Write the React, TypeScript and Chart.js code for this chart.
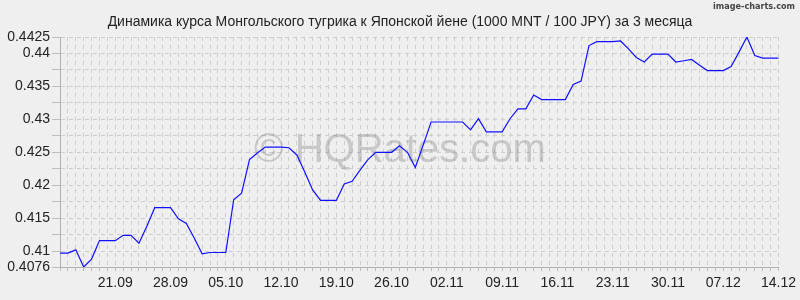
import React, { useEffect, useRef } from 'react';
import { Chart, registerables } from 'chart.js';

Chart.register(...registerables);

const titleText = 'Динамика курса Монгольского тугрика к Японской йене (1000 MNT / 100 JPY) за 3 месяца';
const watermarkText = '© HQRates.com';
const creditText = 'image-charts.com';

const categories = [
  '14.09', '15.09', '16.09', '17.09', '18.09', '19.09', '20.09', '21.09', '22.09', '23.09',
  '24.09', '25.09', '26.09', '27.09', '28.09', '29.09', '30.09',
  '01.10', '02.10', '03.10', '04.10', '05.10', '06.10', '07.10', '08.10', '09.10', '10.10',
  '11.10', '12.10', '13.10', '14.10', '15.10', '16.10', '17.10', '18.10', '19.10', '20.10',
  '21.10', '22.10', '23.10', '24.10', '25.10', '26.10', '27.10', '28.10', '29.10', '30.10', '31.10',
  '01.11', '02.11', '03.11', '04.11', '05.11', '06.11', '07.11', '08.11', '09.11', '10.11',
  '11.11', '12.11', '13.11', '14.11', '15.11', '16.11', '17.11', '18.11', '19.11', '20.11',
  '21.11', '22.11', '23.11', '24.11', '25.11', '26.11', '27.11', '28.11', '29.11', '30.11',
  '01.12', '02.12', '03.12', '04.12', '05.12', '06.12', '07.12', '08.12', '09.12', '10.12',
  '11.12', '12.12', '13.12', '14.12',
];

const rateValues = [
  0.4097, 0.4097, 0.4102, 0.4076, 0.4088, 0.4116, 0.4116, 0.4116, 0.4124, 0.4124,
  0.4112, 0.4138, 0.4166, 0.4166, 0.4166, 0.4149, 0.4142, 0.4120, 0.4096, 0.4098,
  0.4098, 0.4098, 0.4178, 0.4188, 0.4239, 0.4249, 0.4258, 0.4258, 0.4258, 0.4257,
  0.4246, 0.4220, 0.4193, 0.4177, 0.4177, 0.4177, 0.4202, 0.4206, 0.4223, 0.4239,
  0.4250, 0.4250, 0.4250, 0.4260, 0.4250, 0.4227, 0.4261, 0.4296, 0.4296, 0.4296,
  0.4296, 0.4296, 0.4284, 0.4301, 0.4281, 0.4281, 0.4281, 0.4301, 0.4316, 0.4316,
  0.4337, 0.4330, 0.4330, 0.4330, 0.4330, 0.4353, 0.4358, 0.4412, 0.4418, 0.4418,
  0.4418, 0.4419, 0.4407, 0.4394, 0.4387, 0.4399, 0.4399, 0.4399, 0.4387, 0.4389,
  0.4391, 0.4382, 0.4374, 0.4374, 0.4374, 0.4380, 0.4402, 0.4425, 0.4397, 0.4393,
  0.4393, 0.4393,
];

const xTickLabels = ['21.09', '28.09', '05.10', '12.10', '19.10', '26.10', '02.11', '09.11', '16.11', '23.11', '30.11', '07.12', '14.12'];

const yMin = 0.4076;
const yMax = 0.4425;
const yTickValues = [0.4076, 0.41, 0.4125, 0.415, 0.4175, 0.42, 0.4225, 0.425, 0.4275, 0.43, 0.4325, 0.435, 0.4375, 0.44, 0.4425];
const yTickLabels = ['0.4076', '0.41', '', '0.415', '', '0.42', '', '0.425', '', '0.43', '', '0.435', '', '0.44', '0.4425'];

const FONT = '"Liberation Sans", Arial, sans-serif';

const decorPlugin = {
  id: 'decor',
  beforeDraw(chart: any) {
    const ctx = chart.ctx;
    ctx.save();
    ctx.fillStyle = '#efefef';
    ctx.fillRect(0, 0, chart.width, chart.height);
    ctx.fillStyle = '#222';
    ctx.font = '14px ' + FONT;
    ctx.textAlign = 'center';
    ctx.textBaseline = 'alphabetic';
    ctx.fillText(titleText, 400, 26);
    ctx.fillStyle = '#444';
    ctx.font = 'bold 9px "DejaVu Sans Condensed", "DejaVu Sans", sans-serif';
    ctx.textAlign = 'right';
    ctx.fillText(creditText, 795, 9);
    ctx.restore();
  },
  beforeDatasetsDraw(chart: any) {
    const ctx = chart.ctx;
    ctx.save();
    ctx.fillStyle = 'rgba(120,120,120,0.33)';
    ctx.font = '40px ' + FONT;
    ctx.textAlign = 'center';
    ctx.textBaseline = 'alphabetic';
    ctx.fillText(watermarkText, 400, 162);
    ctx.restore();
  },
};

export default function App() {
  const ref = useRef<HTMLCanvasElement | null>(null);
  useEffect(() => {
    document.body.style.margin = '0';
    document.body.style.background = '#efefef';
    const canvas = ref.current;
    if (!canvas) return;
    const chart = new Chart(canvas, {
      type: 'line',
      data: {
        labels: categories,
        datasets: [
          {
            data: rateValues,
            borderColor: '#1010ff',
            borderWidth: 1.2,
            pointRadius: 0,
            tension: 0,
            fill: false,
          },
        ],
      },
      options: {
        animation: false,
        responsive: false,
        devicePixelRatio: 1,
        layout: { padding: { left: 0, right: 21, top: 37, bottom: 0 } },
        plugins: { legend: { display: false }, tooltip: { enabled: false }, title: { display: false } },
        scales: {
          x: {
            offset: false,
            afterFit: (s: any) => { s.height = 33; },
            ticks: {
              autoSkip: false,
              maxRotation: 0,
              minRotation: 0,
              padding: 4,
              color: '#222',
              font: { family: FONT, size: 14 },
              callback: (v: any, i: number) => (xTickLabels.includes(categories[i]) ? categories[i] : ''),
            },
            grid: { color: '#cdcdcd', tickLength: 4, tickColor: '#bdbdbd' },
            border: { color: '#b0b0b0', width: 1, dash: [4, 4] },
          },
          y: {
            min: yMin,
            max: yMax,
            afterFit: (s: any) => { s.width = 60; },
            afterBuildTicks: (s: any) => { s.ticks = yTickValues.map((v) => ({ value: v })); },
            ticks: {
              autoSkip: false,
              padding: 2,
              color: '#222',
              font: { family: FONT, size: 14 },
              callback: (v: any, i: number) => yTickLabels[i],
            },
            grid: { color: '#cdcdcd', tickLength: 8, tickColor: '#bdbdbd' },
            border: { color: '#b0b0b0', width: 1, dash: [4, 4] },
          },
        },
      },
      plugins: [decorPlugin],
    });
    return () => chart.destroy();
  }, []);
  return (
    <div style={{ width: 800, height: 300 }}>
      <canvas ref={ref} width={800} height={300} style={{ display: 'block' }} />
    </div>
  );
}
